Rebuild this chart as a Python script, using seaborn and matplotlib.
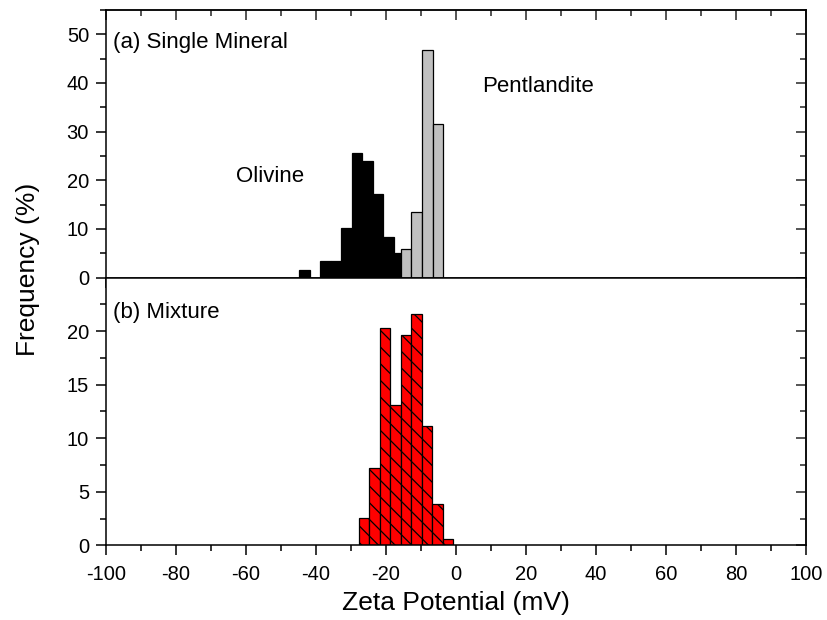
import numpy as np
import matplotlib.pyplot as plt
import seaborn as sns
from matplotlib.ticker import MultipleLocator, FixedLocator

# bin centres (mV) and frequencies (%)
olivine_zeta = [-43.3, -37.3, -34.3, -31.3, -28.3, -25.3, -22.3, -19.3, -16.3]
olivine_freq = [1.5, 3.3, 3.3, 10.1, 25.6, 24.0, 17.1, 8.4, 5.0]

pent_zeta = [-14.2, -11.2, -8.2, -5.2]
pent_freq = [5.8, 13.5, 46.8, 31.5]

mix_zeta = [-26.3, -23.3, -20.3, -17.2, -14.2, -11.2, -8.2, -5.2, -2.2]
mix_freq = [2.6, 7.2, 20.3, 13.1, 19.6, 21.6, 11.1, 3.9, 0.65]

sns.set_style('ticks')
plt.rcParams['font.family'] = ['Liberation Sans', 'DejaVu Sans']
plt.rcParams['hatch.linewidth'] = 0.9
plt.rcParams['axes.unicode_minus'] = False
plt.rcParams['text.color'] = 'black'
plt.rcParams['xtick.labelcolor'] = 'black'
plt.rcParams['ytick.labelcolor'] = 'black'
plt.rcParams['axes.labelcolor'] = 'black'

fig = plt.figure(figsize=(8.28, 6.2), dpi=100)
ax1 = fig.add_axes([0.1277, 0.5524, 0.8457, 0.4315])
ax2 = fig.add_axes([0.1277, 0.1202, 0.8457, 0.4322])

bar_kw = dict(edgecolor='black', linewidth=0.9, alpha=1, stat='count')
sns.histplot(x=olivine_zeta, weights=olivine_freq, bins=10, binrange=(-44.8, -14.8),
             color='black', ax=ax1, **bar_kw)
sns.histplot(x=pent_zeta, weights=pent_freq, bins=4, binrange=(-15.7, -3.6),
             color='#c0c0c0', ax=ax1, **bar_kw)
sns.histplot(x=mix_zeta, weights=mix_freq, bins=9, binrange=(-27.8, -0.7),
             color='red', hatch='\\\\', ax=ax2, **bar_kw)

for ax in (ax1, ax2):
    ax.set_xlim(-100, 100)
    ax.set_xlabel('')
    ax.set_ylabel('')
    ax.xaxis.set_major_locator(MultipleLocator(20))
    ax.xaxis.set_minor_locator(MultipleLocator(10))
    for s in ax.spines.values():
        s.set_linewidth(1.1)
        s.set_color('black')
    ax.tick_params(which='major', direction='out', length=7, width=1.1,
                   labelsize=14.5, color='black', labelcolor='black', pad=5)
    ax.tick_params(which='minor', direction='out', length=4.5, width=1.1, color='black')
ax2.tick_params(axis='x', pad=7)

ax1.set_ylim(0, 55)
ax1.yaxis.set_major_locator(MultipleLocator(10))
ax1.yaxis.set_minor_locator(MultipleLocator(5))
ax1.tick_params(labelbottom=False)

ax2.set_ylim(0, 25)
ax2.yaxis.set_major_locator(FixedLocator([0, 5, 10, 15, 20]))
ax2.yaxis.set_minor_locator(FixedLocator([2.5, 7.5, 12.5, 17.5, 22.5]))

# inward ticks on the top of the upper panel and on the right of both
top = ax1.secondary_xaxis('top')
top.xaxis.set_major_locator(MultipleLocator(20))
top.xaxis.set_minor_locator(MultipleLocator(10))
top.tick_params(which='major', direction='in', length=7, width=1.1, labeltop=False)
top.tick_params(which='minor', direction='in', length=4.5, width=1.1)
top.spines['top'].set_linewidth(1.1)

for ax, maj, mnr in ((ax1, MultipleLocator(10), MultipleLocator(5)),
                     (ax2, FixedLocator([0, 5, 10, 15, 20]),
                      FixedLocator([2.5, 7.5, 12.5, 17.5, 22.5]))):
    r = ax.secondary_yaxis('right')
    r.yaxis.set_major_locator(maj)
    r.yaxis.set_minor_locator(mnr)
    r.tick_params(which='major', direction='in', length=7, width=1.1, labelright=False)
    r.tick_params(which='minor', direction='in', length=4.5, width=1.1)
    r.spines['right'].set_linewidth(1.1)

ax1.text(0.010, 0.880, '(a) Single Mineral', transform=ax1.transAxes,
         fontsize=16, va='center', ha='left')
ax1.text(-53.1, 20.8, 'Olivine', fontsize=16, va='center', ha='center')
ax1.text(23.6, 39.3, 'Pentlandite', fontsize=16, va='center', ha='center')
ax2.text(0.010, 0.868, '(b) Mixture', transform=ax2.transAxes,
         fontsize=16, va='center', ha='left')

ax2.set_xlabel('Zeta Potential (mV)', fontsize=19, labelpad=5)
fig.text(0.034, 0.565, 'Frequency (%)', rotation=90, fontsize=19,
         va='center', ha='center')

fig.savefig('out.png', dpi=100, facecolor='white')
